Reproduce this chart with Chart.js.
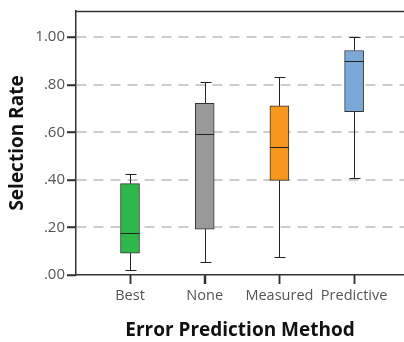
<!DOCTYPE html>
<html><head><meta charset="utf-8">
<script src="https://cdn.jsdelivr.net/npm/chart.js@4/dist/chart.umd.min.js"></script>
<style>html,body{margin:0;padding:0;background:#fff}#wrap{width:404px;height:342px}</style>
</head><body><div id="wrap"><canvas id="c" width="404" height="342"></canvas></div>
<script>
const categories = ["Best", "None", "Measured", "Predictive"];
const whiskerMin = [0.019, 0.055, 0.075, 0.407];
const q1 = [0.092, 0.193, 0.398, 0.687];
const median = [0.177, 0.593, 0.537, 0.898];
const q3 = [0.384, 0.722, 0.711, 0.944];
const whiskerMax = [0.426, 0.813, 0.833, 1.0];
const yTicks = [0, 0.2, 0.4, 0.6, 0.8, 1.0];
const yTickLabels = [".00", ".20", ".40", ".60", ".80", "1.00"];
const colors = ["#2fb84a", "#999999", "#f7971d", "#7aa9d8"];

const positions = categories.map((_, i) => i + 1);

const boxPlugin = {
  id: 'boxParts',
  beforeDatasetsDraw(chart) {
    const ctx = chart.ctx, xs = chart.scales.x, ys = chart.scales.y;
    ctx.save();
    ctx.strokeStyle = '#222';
    ctx.lineWidth = 1;
    const half = 5;
    positions.forEach((p, i) => {
      const x = Math.round(xs.getPixelForValue(p)) + 0.5;
      const yMin = Math.round(ys.getPixelForValue(whiskerMin[i])) + 0.5;
      const yMax = Math.round(ys.getPixelForValue(whiskerMax[i])) + 0.5;
      const yQ1 = ys.getPixelForValue(q1[i]);
      const yQ3 = ys.getPixelForValue(q3[i]);
      ctx.beginPath();
      ctx.moveTo(x, yMax); ctx.lineTo(x, yQ3);
      ctx.moveTo(x, yQ1); ctx.lineTo(x, yMin);
      ctx.moveTo(x - half, yMax); ctx.lineTo(x + half + 1, yMax);
      ctx.moveTo(x - half, yMin); ctx.lineTo(x + half + 1, yMin);
      ctx.stroke();
    });
    ctx.restore();
  },
  afterDatasetsDraw(chart) {
    const ctx = chart.ctx, xs = chart.scales.x, ys = chart.scales.y;
    const meta = chart.getDatasetMeta(0);
    ctx.save();
    ctx.strokeStyle = '#222';
    ctx.lineWidth = 1;
    positions.forEach((p, i) => {
      const bar = meta.data[i];
      const w = bar.width;
      const x = xs.getPixelForValue(p);
      const y = Math.round(ys.getPixelForValue(median[i])) + 0.5;
      ctx.beginPath();
      ctx.moveTo(x - w / 2, y); ctx.lineTo(x + w / 2, y);
      ctx.stroke();
    });
    ctx.restore();
  },
  afterDraw(chart) {
    const ctx = chart.ctx, xs = chart.scales.x, ys = chart.scales.y;
    const a = chart.chartArea;
    ctx.save();
    ctx.strokeStyle = '#333';
    ctx.lineWidth = 1.5;
    ctx.beginPath();
    ctx.moveTo(a.left, a.top + 0.5); ctx.lineTo(a.right, a.top + 0.5);
    ctx.stroke();
    // axis tick marks
    ctx.lineWidth = 1.5;
    ctx.beginPath();
    positions.forEach(p => {
      const x = Math.round(xs.getPixelForValue(p)) + 0.5;
      ctx.moveTo(x, a.bottom); ctx.lineTo(x, a.bottom + 9);
    });
    yTicks.forEach(v => {
      const y = Math.round(ys.getPixelForValue(v)) + 0.5;
      ctx.moveTo(a.left - 9, y); ctx.lineTo(a.left, y);
    });
    ctx.stroke();
    ctx.restore();
  }
};

new Chart(document.getElementById('c'), {
  type: 'bar',
  data: {
    datasets: [{
      data: positions.map((p, i) => ({ x: p, y: [q1[i], q3[i]] })),
      backgroundColor: colors,
      borderColor: '#333',
      borderWidth: 1,
      borderSkipped: false,
      barThickness: 19
    }]
  },
  options: {
    responsive: false,
    animation: false,
    layout: { padding: { top: 7, right: 0, left: 0, bottom: 0 } },
    plugins: { legend: { display: false }, tooltip: { enabled: false } },
    scales: {
      x: {
        type: 'linear',
        offset: false,
        min: 0.277,
        max: 4.668,
        afterBuildTicks(s) { s.ticks = positions.map(v => ({ value: v })); },
        afterFit(s) { s.height = 67; },
        ticks: {
          callback: (v) => categories[Math.round(v) - 1] || '',
          font: { family: 'Open Sans', size: 14.5 },
          color: '#555',
          padding: 3,
          maxRotation: 0, autoSkip: false
        },
        grid: { offset: false, drawOnChartArea: false, drawTicks: true, tickLength: 9, tickColor: '#333', tickWidth: 1.5 },
        border: { display: true, color: '#333', width: 1.5 },
        title: {
          display: true, text: 'Error Prediction Method',
          font: { family: 'Open Sans', size: 19, weight: 'bold' },
          color: '#111', padding: { top: 6, bottom: 0 }
        }
      },
      y: {
        type: 'linear',
        min: 0,
        max: 1.11,
        afterBuildTicks(s) { s.ticks = yTicks.map(v => ({ value: v })); },
        afterFit(s) { s.width = 76; },
        ticks: {
          callback: (v) => { const i = yTicks.findIndex(t => Math.abs(t - v) < 1e-6); return i >= 0 ? yTickLabels[i] : ''; },
          font: { family: 'Open Sans', size: 15 },
          color: '#555',
          padding: 2
        },
        grid: {
          color: (c) => (c.tick && c.tick.value === 0) ? 'rgba(0,0,0,0)' : '#cccccc',
          lineWidth: 2,
          tickColor: '#333', tickLength: 9, tickWidth: 1.5, tickBorderDash: []
        },
        border: { display: true, color: '#333', width: 1.5, dash: [10, 7] },
        title: {
          display: true, text: 'Selection Rate',
          font: { family: 'Open Sans', size: 19, weight: 'bold' },
          color: '#111', padding: { top: 6, bottom: 4 }
        }
      }
    }
  },
  plugins: [boxPlugin]
});
</script></body></html>
